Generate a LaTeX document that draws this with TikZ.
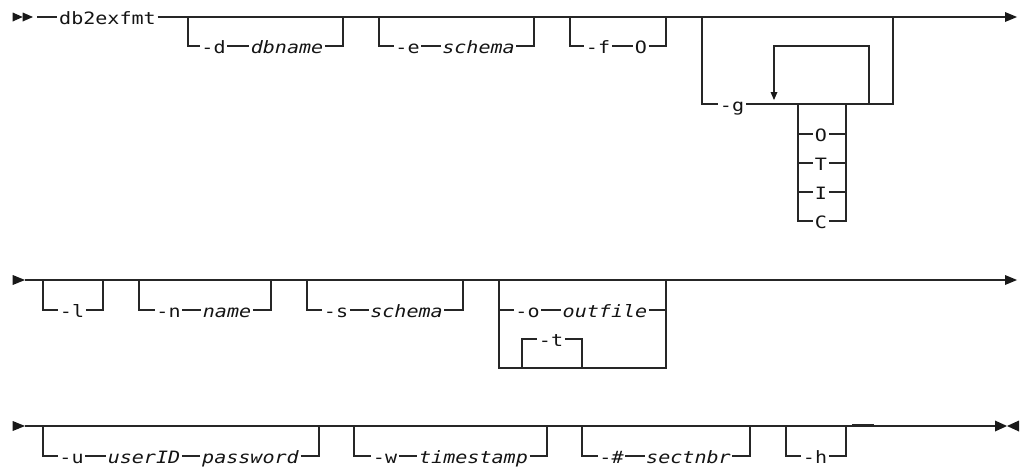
\documentclass[tikz,border=0pt]{standalone}
\usepackage{fontspec}
\newfontfamily\synfont[FakeStretch=1.18]{DejaVu Sans Mono}
\newfontfamily\synit[FakeStretch=1.18]{DejaVu Sans Mono Oblique}
\begin{document}
\begin{tikzpicture}[x=1pt,y=-1pt,
  rail/.style={line width=1.2pt,draw=black!85},
  tok/.style={font=\synfont\fontsize{17}{17}\selectfont, inner xsep=1.5pt, inner ysep=0pt, text height=14pt, text depth=0pt, text=black!92},
  var/.style={tok, font=\synit\fontsize{17}{17}\selectfont},
  tip/.style={fill=black!90, draw=none}]
\useasboundingbox (0,0) rectangle (1022,466);

% ---------------- row 1 ----------------
\fill[tip] (12.7,12.5) -- (22.7,17) -- (12.7,21.5) -- cycle;
\fill[tip] (22.7,12.5) -- (33,17) -- (22.7,21.5) -- cycle;
\coordinate (s1) at (37,17);
\coordinate (e1) at (1005,17);
\node[tok] (cmd) at (107.5,17) {db2exfmt};
\draw[rail] (s1) -- (cmd.west) (cmd.east) -- (e1);
\fill[tip] (1005,12) -- (1017,17) -- (1005,22) -- cycle;

% -d dbname
\coordinate (dL) at (188,17); \coordinate (dR) at (343,17);
\node[tok] (d) at (213.5,46) {-d};
\node[var] (dbname) at (287,46) {dbname};
\draw[rail] (dL) |- (d.west) (d.east) -- (dbname.west) (dbname.east) -| (dR);

% -e schema
\coordinate (eL) at (379,17); \coordinate (eR) at (534,17);
\node[tok] (e) at (407.5,46) {-e};
\node[var] (eschema) at (478.5,46) {schema};
\draw[rail] (eL) |- (e.west) (e.east) -- (eschema.west) (eschema.east) -| (eR);

% -f O
\coordinate (fL) at (570,17); \coordinate (fR) at (666,17);
\node[tok] (f) at (598,46) {-f};
\node[tok] (fO) at (641,46) {O};
\draw[rail] (fL) |- (f.west) (f.east) -- (fO.west) (fO.east) -| (fR);

% -g group
\coordinate (gL) at (702,17); \coordinate (gR) at (893,17);
\coordinate (gR2) at (893,104);
\node[tok] (g) at (732,104) {-g};
\draw[rail] (gL) |- (g.west) (g.east) -- (gR2) -- (gR);
% repeat loop
\coordinate (lp1) at (869,104); \coordinate (lp2) at (869,46);
\coordinate (lp3) at (774,46); \coordinate (lp4) at (774,92);
\draw[rail] (lp1) -- (lp2) -- (lp3) -- (lp4);
\fill[tip] (770.5,92) -- (777.5,92) -- (774,100) -- cycle;
% choices
\coordinate (cL) at (798,104); \coordinate (cR) at (846,104);
\node[tok] (cO) at (821,134) {O};
\node[tok] (cT) at (821,163) {T};
\node[tok] (cI) at (821,192) {I};
\node[tok] (cC) at (821,221) {C};
\draw[rail] (cL) |- (cC.west) (cC.east) -| (cR);
\foreach \n in {cO,cT,cI}{
  \draw[rail] (\n.west -| cL) -- (\n.west) (\n.east) -- (\n.east -| cR);
}

% ---------------- row 2 ----------------
\fill[tip] (12.7,275) -- (25,280) -- (12.7,285) -- cycle;
\coordinate (s2) at (25,280); \coordinate (e2) at (1005,280);
\draw[rail] (s2) -- (e2);
\fill[tip] (1005,275) -- (1017,280) -- (1005,285) -- cycle;

% -l
\coordinate (lL) at (43,280); \coordinate (lR) at (103,280);
\node[tok] (l) at (72,310) {-l};
\draw[rail] (lL) |- (l.west) (l.east) -| (lR);

% -n name
\coordinate (nL) at (139,280); \coordinate (nR) at (271,280);
\node[tok] (n) at (168.5,310) {-n};
\node[var] (name) at (227,310) {name};
\draw[rail] (nL) |- (n.west) (n.east) -- (name.west) (name.east) -| (nR);

% -s schema
\coordinate (sL) at (307,280); \coordinate (sR) at (463,280);
\node[tok] (s) at (336,310) {-s};
\node[var] (sschema) at (406.5,310) {schema};
\draw[rail] (sL) |- (s.west) (s.east) -- (sschema.west) (sschema.east) -| (sR);

% -o outfile / -t
\coordinate (oL) at (499,280); \coordinate (oR) at (666,280);
\coordinate (oLb) at (499,368); \coordinate (oRb) at (666,368);
\node[tok] (o) at (527.5,310) {-o};
\node[var] (outfile) at (605,310) {outfile};
\draw[rail] (oL) -- (oLb) -- (oRb) -- (oR);
\draw[rail] (o.west -| oL) -- (o.west) (o.east) -- (outfile.west) (outfile.east) -- (outfile.east -| oR);
\coordinate (tL) at (522,368); \coordinate (tR) at (582,368);
\node[tok] (t) at (551,339) {-t};
\draw[rail] (tL) |- (t.west) (t.east) -| (tR);

% ---------------- row 3 ----------------
\fill[tip] (12.7,421) -- (25,426) -- (12.7,431) -- cycle;
\coordinate (s3) at (25,426); \coordinate (e3) at (995,426);
\draw[rail] (s3) -- (e3);
\fill[tip] (995,420.5) -- (1007,426) -- (995,431.5) -- cycle;
\fill[tip] (1019,420.5) -- (1007,426) -- (1019,431.5) -- cycle;

% -u userID password
\coordinate (uL) at (43,426); \coordinate (uR) at (319,426);
\node[tok] (u) at (71.5,456) {-u};
\node[var] (userid) at (144,456) {userID};
\node[var] (password) at (250.5,456) {password};
\draw[rail] (uL) |- (u.west) (u.east) -- (userid.west) (userid.east) -- (password.west) (password.east) -| (uR);

% -w timestamp
\coordinate (wL) at (354,426); \coordinate (wR) at (547,426);
\node[tok] (w) at (385,456) {-w};
\node[var] (timestamp) at (473.5,456) {timestamp};
\draw[rail] (wL) |- (w.west) (w.east) -- (timestamp.west) (timestamp.east) -| (wR);

% -# sectnbr
\coordinate (hashL) at (582,426); \coordinate (hashR) at (750,426);
\node[tok] (hash) at (611.5,456) {-\#};
\node[var] (sectnbr) at (688.5,456) {sectnbr};
\draw[rail] (hashL) |- (hash.west) (hash.east) -- (sectnbr.west) (sectnbr.east) -| (hashR);

% -h
\coordinate (hL) at (786,426); \coordinate (hR) at (846,426);
\node[tok] (h) at (815,456) {-h};
\draw[rail] (hL) |- (h.west) (h.east) -| (hR);

% small dash mark on the rail
\coordinate (m1) at (852,425.3); \coordinate (m2) at (874,425.3);
\draw[line width=1.8pt,draw=black!85] (m1) -- (m2);
\end{tikzpicture}
\end{document}
